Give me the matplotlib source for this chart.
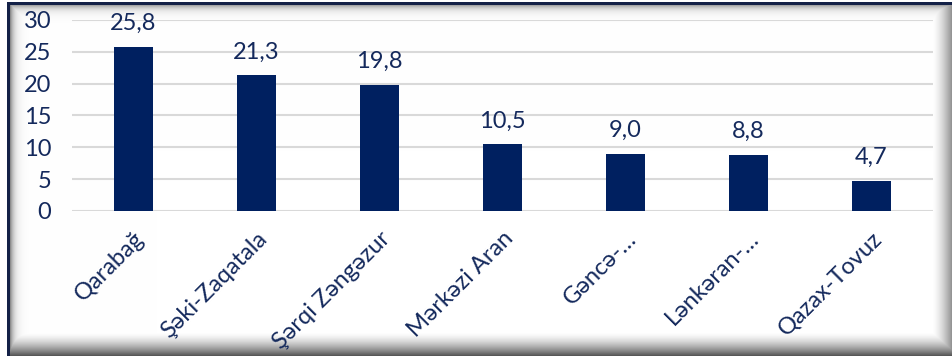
import numpy as np
import matplotlib.pyplot as plt

regions = ["Qarabağ", "Şəki-Zaqatala", "Şərqi Zəngəzur", "Mərkəzi Aran",
           "Gəncə-…", "Lənkəran-…", "Qazax-Tovuz"]
values = [25.8, 21.3, 19.8, 10.5, 9.0, 8.8, 4.7]
yticks = [0, 5, 10, 15, 20, 25, 30]

navy = "#002060"
txt = "#14295c"

plt.rcParams['font.family'] = ['Lato', 'DejaVu Sans']

W, H = 952, 356
fig = plt.figure(figsize=(W / 100, H / 100), dpi=100)

# background frame: dark line left/top, soft inner shadow on all sides
bg = fig.add_axes([0, 0, 1, 1], zorder=0)
xx, yy = np.meshgrid(np.arange(W), np.arange(H))
dark = np.zeros((H, W))
dark = np.maximum(dark, np.where(xx >= 10, 0.45 * np.exp(-(xx - 10) / 4.0), 0))
dark = np.maximum(dark, np.where(yy >= 5, 0.35 * np.exp(-(yy - 5) / 4.0), 0))
dark = np.maximum(dark, np.clip((xx - 932) / 20.0, 0, 1) ** 1.5 * 0.45)
dark = np.maximum(dark, np.clip((yy - 332) / 24.0, 0, 1) ** 1.5 * 0.7)
img = np.ones((H, W, 3)) * (1 - dark)[..., None]
line = np.array([0.08, 0.13, 0.28])
img[(xx >= 7) & (xx < 10) & (yy >= 2)] = line
img[(yy >= 2) & (yy < 5) & (xx >= 7)] = line
img[:, :7] = 1
img[:2, :] = 1
bg.imshow(img, extent=[0, 1, 0, 1], aspect="auto", interpolation="nearest")
bg.axis("off")

ax = fig.add_axes([72 / W, 1 - 211 / H, (933 - 72) / W, (211 - 20) / H], zorder=1)
ax.patch.set_alpha(0)

x = np.arange(len(regions))
ax.bar(x, values, width=0.31, color=navy, zorder=3)
for xi, v in zip(x, values):
    ax.text(xi, v + 2.0, f"{v:.1f}".replace(".", ","), ha="center", va="bottom",
            fontsize=17, color=txt)

ax.set_xlim(-0.5, len(regions) - 0.5)
ax.set_ylim(0, 30)
ax.set_yticks(yticks)
ax.set_yticklabels([str(t) for t in yticks], fontsize=17, color=txt)
ax.yaxis.grid(True, color="#d9d9d9", lw=1.5, zorder=0)
ax.set_xticks(x)
ax.set_xticklabels(regions, rotation=45, ha="right", va="top",
                   rotation_mode="anchor", fontsize=17, color=txt)
ax.tick_params(axis="y", length=0, pad=15)
ax.tick_params(axis="x", length=0, pad=12)
for s in ax.spines.values():
    s.set_visible(False)

fig.savefig("out.png", dpi=100)
